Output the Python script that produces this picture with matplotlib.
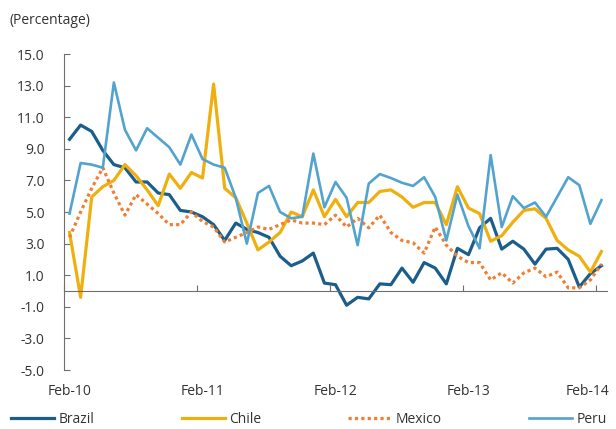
import numpy as np
import matplotlib
matplotlib.use("Agg")
import matplotlib.pyplot as plt
from matplotlib.transforms import ScaledTranslation

plt.rcParams['font.family'] = ['Open Sans', 'DejaVu Sans']
plt.rcParams['axes.unicode_minus'] = False

# Monthly inflation, Feb-10 .. Feb-14 (percent)
tick_labels = ["Feb-10", "Feb-11", "Feb-12", "Feb-13", "Feb-14"]
brazil = [9.6, 10.5, 10.1, 8.9, 8.0, 7.8, 6.9, 6.9, 6.2, 6.1,
          5.1, 5.0, 4.7, 4.2, 3.2, 4.3, 3.9, 3.7, 3.4, 2.2,
          1.6, 1.9, 2.4, 0.5, 0.4, -0.9, -0.4, -0.5, 0.45, 0.4,
          1.45, 0.55, 1.8, 1.45, 0.45, 2.7, 2.3, 4.0, 4.6, 2.65,
          3.15, 2.65, 1.7, 2.65, 2.7, 2.0, 0.25, 1.1, 1.6]
chile = [3.7, -0.4, 5.95, 6.6, 7.0, 8.0, 7.3, 6.4, 5.4, 7.4,
         6.5, 7.5, 7.15, 13.1, 6.5, 5.9, 4.3, 2.6, 3.1, 3.7,
         5.0, 4.7, 6.4, 4.7, 5.8, 4.7, 5.6, 5.6, 6.3, 6.4,
         5.95, 5.3, 5.6, 5.6, 4.2, 6.6, 5.25, 4.9, 3.15, 3.5,
         4.35, 5.1, 5.2, 4.6, 3.2, 2.6, 2.2, 1.2, 2.5]
mexico = [3.4, 5.0, 6.5, 7.8, 6.2, 4.8, 6.1, 5.5, 4.9, 4.2,
          4.2, 5.0, 4.4, 4.05, 3.1, 3.4, 3.7, 4.05, 3.9, 4.2,
          4.5, 4.3, 4.3, 4.2, 4.8, 4.05, 4.6, 4.0, 4.8, 3.7,
          3.2, 3.05, 2.4, 4.05, 2.9, 2.2, 1.8, 1.8, 0.7, 1.15,
          0.5, 1.15, 1.45, 0.9, 1.2, 0.2, 0.2, 0.7, 1.7]
peru = [4.9, 8.1, 8.0, 7.8, 13.2, 10.2, 8.9, 10.3, 9.7, 9.1,
        8.0, 9.9, 8.35, 8.0, 7.8, 5.9, 3.0, 6.2, 6.65, 5.0,
        4.6, 4.7, 8.7, 5.3, 6.9, 5.9, 2.9, 6.8, 7.4, 7.15,
        6.85, 6.65, 7.2, 5.95, 3.2, 6.1, 4.1, 2.7, 8.6, 4.05,
        6.0, 5.25, 5.6, 4.7, 5.95, 7.2, 6.7, 4.25, 5.75]

x = np.arange(len(brazil))
W, H = 616, 429

fig = plt.figure(figsize=(W / 100, H / 100), dpi=100)
ax = fig.add_axes([64 / W, 1 - 370 / H, (607 - 64) / W, (370 - 54) / H])

ax.plot(x, brazil, color='#1b5e8c', lw=2.3, label='Brazil')
ax.plot(x, chile, color='#efb00f', lw=2.3, label='Chile')
ax.plot(x, mexico, color='#ef7f33', lw=2.3, linestyle=(0, (1, 1)), label='Mexico')
ax.plot(x, peru, color='#52a3cd', lw=1.9, label='Peru')

ax.set_xlim(-0.5, len(brazil) - 0.5)
ax.set_ylim(-5, 15)
ax.set_yticks(np.arange(-5, 16, 2))
ax.set_yticklabels([f"{v:.1f}" for v in np.arange(-5, 16, 2)])

axis_col = '#6e6e6e'
for s in ['top', 'right']:
    ax.spines[s].set_visible(False)
ax.spines['left'].set_color(axis_col)
ax.spines['bottom'].set_color(axis_col)
ax.spines['bottom'].set_position(('data', 0))

ax.tick_params(axis='y', direction='in', length=4, color=axis_col, pad=14,
               labelsize=10, labelcolor='#333333')
ax.set_xticks(np.arange(-0.5, len(brazil), 12))
ax.tick_params(axis='x', direction='in', length=4, color=axis_col,
               labelbottom=False)

# category labels sit at the bottom of the plot area
sec = ax.secondary_xaxis('bottom')
sec.set_xticks(np.arange(0, len(brazil), 12))
sec.set_xticklabels(tick_labels)
sec.tick_params(length=0, pad=10, labelsize=10, labelcolor='#333333')
sec.spines['bottom'].set_visible(False)
last = sec.get_xticklabels()[-1]
last.set_transform(last.get_transform() + ScaledTranslation(-0.14, 0, fig.dpi_scale_trans))

fig.text(10 / W, 1 - 20 / H, "(Percentage)", fontsize=10, color='#333333', va='center')

fig.legend(loc='lower left', bbox_to_anchor=(4 / W, -0.012), ncol=4, frameon=False,
           handlelength=3.1, handletextpad=0.3, columnspacing=6.3,
           borderaxespad=0.1, fontsize=10, labelcolor='#333333')

fig.savefig("out.png", dpi=100)
